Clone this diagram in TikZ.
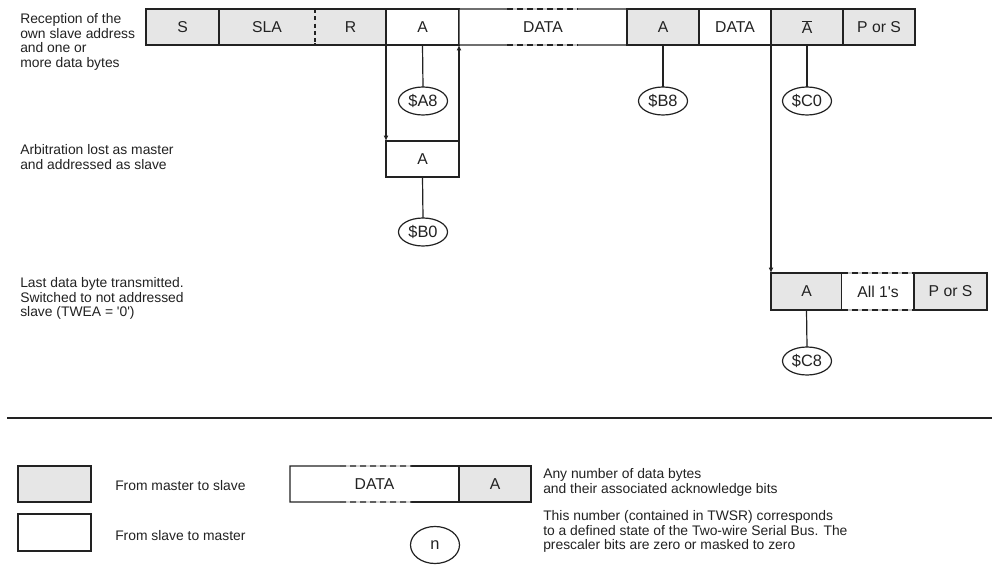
\documentclass[tikz,border=0pt]{standalone}
\usepackage{fontspec}
\setmainfont{Liberation Sans}
\usetikzlibrary{shapes.geometric,arrows.meta,calc}
\definecolor{cellgray}{HTML}{E6E6E6}
\definecolor{ink}{HTML}{222222}
\definecolor{dashgray}{HTML}{C4C4C4}
\newcommand{\cellat}[7]{%
  \node[cell,#6,minimum width={(#3-#2)*0.75pt},minimum height={(#5-#4)*0.75pt}] (#1) at ({(#2+#3)/2},{(#4+#5)/2}) {#7};}
\newcommand{\partdash}[3]{%
  \draw[link] ($(#1.north west)!#2!(#1.north east)$) -- (#1.north west) -- (#1.south west) -- ($(#1.south west)!#2!(#1.south east)$);
  \draw[link] ($(#1.north west)!#3!(#1.north east)$) -- (#1.north east) -- (#1.south east) -- ($(#1.south west)!#3!(#1.south east)$);
  \draw[link,draw=dashgray] ($(#1.north west)!#2!(#1.north east)$) -- ($(#1.north west)!#3!(#1.north east)$);
  \draw[link,dash pattern=on 4.5pt off 3pt] ($(#1.north west)!#2!(#1.north east)$) -- ($(#1.north west)!#3!(#1.north east)$);
  \draw[link,draw=dashgray] ($(#1.south west)!#2!(#1.south east)$) -- ($(#1.south west)!#3!(#1.south east)$);
  \draw[link,dash pattern=on 4.5pt off 3pt] ($(#1.south west)!#2!(#1.south east)$) -- ($(#1.south west)!#3!(#1.south east)$);}
\begin{document}
\begin{tikzpicture}[x=0.75pt,y=-0.75pt,
  cell/.style={draw=ink,line width=0.9pt,inner sep=0pt,outer sep=0pt,font=\fontsize{11.8}{13}\selectfont,text=ink},
  gray/.style={fill=cellgray},
  white/.style={fill=white},
  nodraw/.style={draw=none},
  state/.style={ellipse,draw=ink,line width=0.9pt,inner sep=0pt,outer sep=0pt,minimum width=36.75pt,minimum height=21pt,font=\fontsize{12.3}{13}\selectfont,text=ink},
  link/.style={draw=ink,line width=0.9pt},
  arr/.style={link,-{Latex[length=4pt,width=3.6pt]}},
  side/.style={anchor=north west,align=left,inner sep=0pt,font=\fontsize{10.4}{11.1}\selectfont,text=ink}]
\useasboundingbox[fill=white] (0,0) rectangle (992,573);

% top row
\cellat{s}{146}{219}{9}{45}{gray}{S}
\cellat{sla}{219}{315}{9}{45}{gray}{SLA}
\cellat{r}{315}{386}{9}{45}{gray}{R}
\cellat{a1}{386}{459}{9}{45}{white}{A}
\cellat{data1}{459}{627}{9}{45}{white,nodraw}{DATA}
\cellat{a6}{627}{699}{9}{45}{gray}{A}
\cellat{data2}{699}{771}{9}{45}{white}{DATA}
\cellat{nack}{771}{843}{9}{45}{gray}{$\overline{\mbox{A}}$}
\cellat{ps1}{843}{915}{9}{45}{gray}{P or S}
\partdash{data1}{0.286}{0.708}
\draw[link,draw=cellgray,line width=1.4pt] ($(sla.north east)+(0,1.5)$) -- ($(sla.south east)+(0,-1.5)$);
\draw[link,dash pattern=on 3pt off 2.5pt] (sla.north east) -- (sla.south east);

% arbitration row
\cellat{a2}{386}{459}{141}{177}{white}{A}

% last byte row
\cellat{a3}{771}{842}{273}{310}{gray}{A}
\cellat{ones}{842}{914}{273}{310}{white,nodraw}{All 1\textquotesingle s}
\cellat{ps3}{914}{987}{273}{310}{gray}{P or S}
\draw[link,draw=dashgray] (ones.north west) -- (ones.north east);
\draw[link,dash pattern=on 4.5pt off 3pt] (ones.north west) -- (ones.north east);
\draw[link,draw=dashgray] (ones.south west) -- (ones.south east);
\draw[link,dash pattern=on 4.5pt off 3pt] (ones.south west) -- (ones.south east);

% states
\node[state] (sa8) at (423,101) {\$A8};
\node[state] (sb8) at (663,101) {\$B8};
\node[state] (sc0) at (807,101) {\$C0};
\node[state] (sb0) at (423,232) {\$B0};
\node[state] (sc8) at (807,361) {\$C8};

% connectors
\draw[link] (a1.south) -- (sa8.north);
\draw[link] (a6.south) -- (sb8.north);
\draw[link] (nack.south) -- (sc0.north);
\draw[link] (a2.south) -- (sb0.north);
\draw[link] (a3.south) -- (sc8.north);
\draw[arr] (a1.south west) -- (a2.north west);
\draw[arr] (a2.north east) -- (a1.south east);
\draw[arr] (data2.south east) -- (a3.north west);

% side texts
\node[side] (t1) at (20,13) {Reception of the\\own slave address\\and one or\\more data bytes};
\node[side] (t2) at (20,144) {Arbitration lost as master\\and addressed as slave};
\node[side] (t3) at (20,277) {Last data byte transmitted.\\Switched to not addressed\\slave (TWEA = \textquotesingle0\textquotesingle)};

% separator
\coordinate (sepl) at (7,418);
\coordinate (sepr) at (992,418);
\draw[link] (sepl) -- (sepr);

% legend
\cellat{lg}{18}{91}{466}{502}{gray}{}
\cellat{lw}{18}{91}{514}{551}{white}{}
\node[side] (tl1) at (115,480) {From master to slave};
\node[side] (tl2) at (115,530) {From slave to master};
\cellat{ldata}{290}{459}{466}{502}{white,nodraw}{DATA}
\cellat{la}{459}{531}{466}{502}{gray}{A}
\partdash{ldata}{0.296}{0.716}
\node[side] (tl3) at (543,468) {Any number of data bytes\\and their associated acknowledge bits};
\node[state,minimum height=27.75pt] (ln) at (435,545) {n};
\node[side] (tl4) at (543,510) {This number (contained in TWSR) corresponds\\to a defined state of the Two-wire Serial Bus. The\\prescaler bits are zero or masked to zero};
\end{tikzpicture}
\end{document}
